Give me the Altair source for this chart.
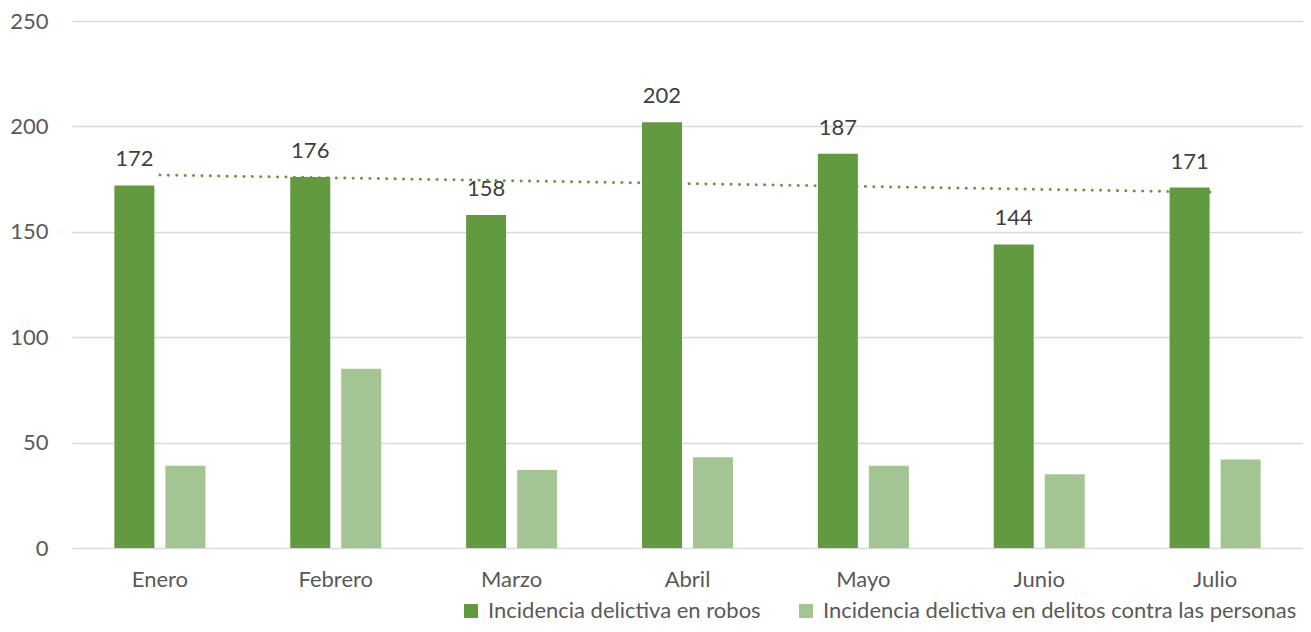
import altair as alt
import pandas as pd

meses = ["Enero", "Febrero", "Marzo", "Abril", "Mayo", "Junio", "Julio"]
robos = [172, 176, 158, 202, 187, 144, 171]
personas = [39, 85, 37, 43, 39, 35, 42]
series = ["Incidencia delictiva en robos", "Incidencia delictiva en delitos contra las personas"]
colores = ["#629B3F", "#A2C591"]
y_ticks = [0, 50, 100, 150, 200, 250]

rows = []
for i, m in enumerate(meses):
    rows.append({"mes": m, "idx": i + 1, "serie": series[0], "valor": robos[i]})
    rows.append({"mes": m, "idx": i + 1, "serie": series[1], "valor": personas[i]})
df = pd.DataFrame(rows)

FONT = "Lato"
FS = 22

y_enc = alt.Y("valor:Q", scale=alt.Scale(domain=[0, 250], nice=False),
              axis=alt.Axis(values=y_ticks, title=None, labelFontSize=FS, labelColor="#595959",
                            labelFont=FONT, labelPadding=24, ticks=False, domain=False,
                            gridColor="#D9D9D9", gridWidth=1.5))

x_scale = alt.Scale(paddingInner=0.4825, paddingOuter=0.241)
xoff_scale = alt.Scale(domain=series, paddingInner=0.216, paddingOuter=0)

x_enc = alt.X("mes:N", sort=meses, scale=x_scale,
              axis=alt.Axis(title=None, labelAngle=0, labelFontSize=FS, labelColor="#595959",
                            labelFont=FONT, labelPadding=21, ticks=False, domain=False, grid=False))

bars = alt.Chart(df).mark_bar().encode(
    x=x_enc,
    xOffset=alt.XOffset("serie:N", sort=series, scale=xoff_scale),
    y=y_enc,
    color=alt.Color("serie:N", sort=series,
                    scale=alt.Scale(domain=series, range=colores),
                    legend=alt.Legend(title=None, orient="none", direction="horizontal",
                                      legendX=388, legendY=579, symbolType="square",
                                      symbolSize=196, symbolStrokeWidth=0, labelFontSize=FS,
                                      labelColor="#595959", labelFont=FONT, labelOffset=6,
                                      columnPadding=34, labelLimit=700)),
)

labels = alt.Chart(df).transform_filter(
    alt.datum.serie == series[0]
).mark_text(fontSize=FS, color="#404040", font=FONT, dy=-19, baseline="alphabetic").encode(
    x=alt.X("mes:N", sort=meses, scale=x_scale, axis=None),
    xOffset=alt.XOffset("serie:N", sort=series, scale=xoff_scale),
    y="valor:Q",
    text="valor:Q",
)

trend = alt.Chart(df).transform_filter(
    alt.datum.serie == series[0]
).transform_regression("idx", "valor", method="linear").mark_line(
    color="#629B3F", strokeWidth=3, strokeDash=[0.1, 8.3], strokeCap="round"
).encode(
    x=alt.X("idx:Q", scale=alt.Scale(domain=[0.5, 7.5], nice=False, zero=False), axis=None),
    y=alt.Y("valor:Q"),
)

chart = alt.layer(bars, labels, trend).resolve_scale(x="independent").properties(
    width=1231, height=527,
    autosize=alt.AutoSizeParams(type="none"),
    padding={"left": 64, "top": 13, "right": 0, "bottom": 76},
).configure_view(stroke=None)

chart.save("out.html", embed_options={"renderer": "svg", "actions": False})
